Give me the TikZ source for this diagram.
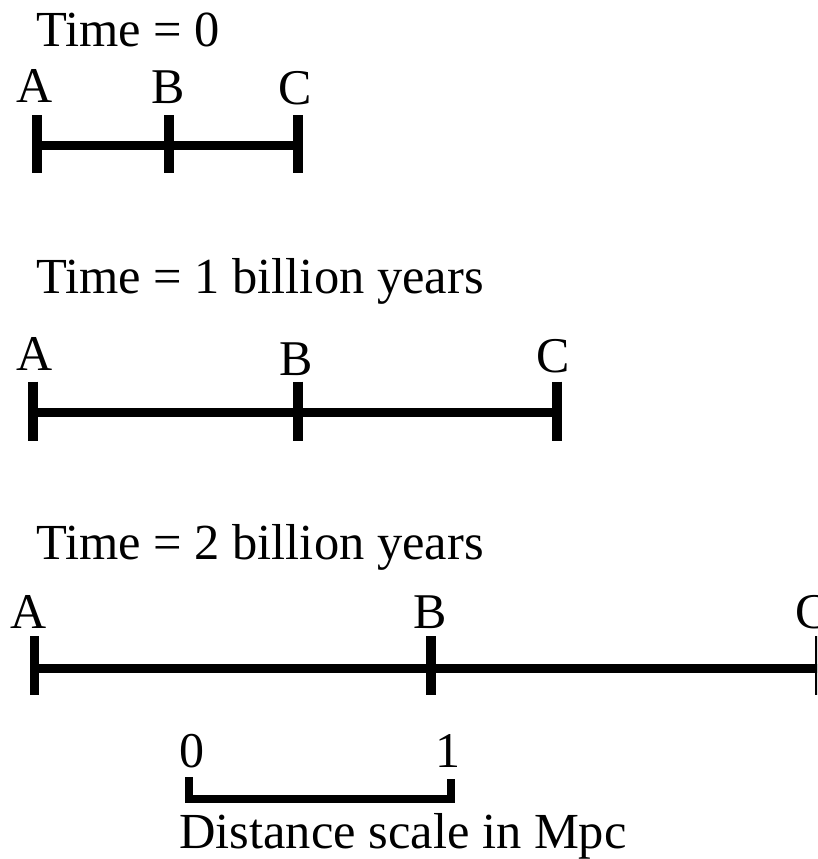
\documentclass[tikz,border=0pt]{standalone}
\usepackage{fontspec}
\setmainfont{Liberation Serif}
\begin{document}
\begin{tikzpicture}[x=1pt,y=-1pt,
  lbl/.style={anchor=base, inner sep=0pt, font=\fontsize{50}{58}\selectfont},
  ttl/.style={anchor=base west, inner sep=0pt, font=\fontsize{50.5}{58}\selectfont},
  bar/.style={line width=9pt},
  tickmark/.style={line width=9.5pt},
  scalebar/.style={line width=8pt, miter limit=10}]
\fill[white] (0,0) rectangle (817,859);
\useasboundingbox (0,0) rectangle (817,859);
\clip (0,0) rectangle (817,859);
% ---- Time = 0
\node[ttl] (t1) at (36,47) {Time = 0};
\coordinate (A1) at (37,145);
\coordinate (B1) at (169,145);
\coordinate (C1) at (298,145);
\draw[bar] (A1) -- (C1);
\foreach \p in {A1,B1,C1} \draw[tickmark] (\p) ++(0,-30) -- ++(0,58);
\node[lbl] (la1) at (35,102) {A};
\node[lbl] (lb1) at (168,103) {B};
\node[lbl] (lc1) at (295,104) {C};
% ---- Time = 1 billion years
\node[ttl] (t2) at (36,293) {Time = 1 billion years};
\coordinate (A2) at (33,412.5);
\coordinate (B2) at (298,412.5);
\coordinate (C2) at (557,412.5);
\draw[bar] (A2) -- (C2);
\foreach \p in {A2,B2,C2} \draw[tickmark] (\p) ++(0,-31) -- ++(0,59);
\node[lbl] (la2) at (35,370) {A};
\node[lbl] (lb2) at (296,375) {B};
\node[lbl] (lc2) at (553,372) {C};
% ---- Time = 2 billion years
\node[ttl] (t3) at (36,559) {Time = 2 billion years};
\coordinate (A3) at (34.5,668);
\coordinate (B3) at (431,668);
\coordinate (C3) at (820,668);
\draw[bar] (A3) -- (C3);
\foreach \p in {A3,B3,C3} \draw[tickmark] (\p) ++(0,-32) -- ++(0,59);
\node[lbl] (la3) at (29,628) {A};
\node[lbl] (lb3) at (430,628) {B};
\node[lbl] (lc3) at (812,628) {C};
% ---- scale
\coordinate (S0) at (189,777);
\coordinate (S1) at (450.5,779);
\draw[scalebar] (S0) |- (S1 |- 0,799) -- (S1);
\node[lbl] (n0) at (192,767) {0};
\node[lbl] (n1) at (448,767) {1};
\node[ttl] (cap) at (179,848) {Distance scale in Mpc};
\end{tikzpicture}
\end{document}
